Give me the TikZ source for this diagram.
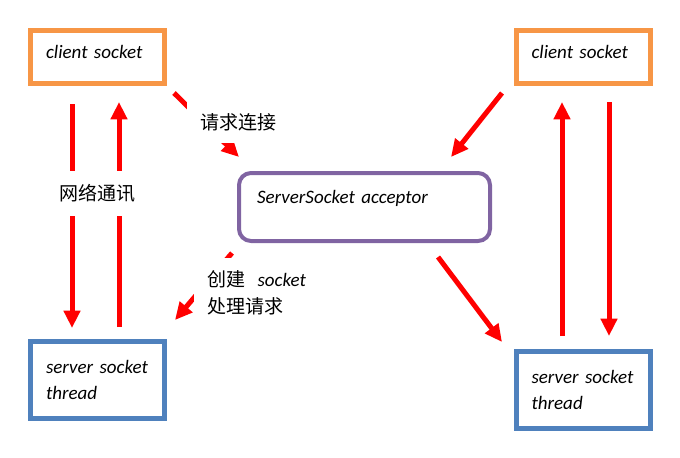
\documentclass[tikz,border=0pt]{standalone}
\usepackage{fontspec}
\setmainfont{Carlito}
\newfontfamily\cjk{Noto Sans CJK SC}
\usetikzlibrary{arrows.meta}

\definecolor{boxorange}{RGB}{247,150,70}
\definecolor{boxblue}{RGB}{79,129,189}
\definecolor{boxpurple}{RGB}{128,100,162}

\tikzset{every picture/.style={line width=0.75pt}}
\tikzset{
  sockbox/.style={line width=3.75pt, minimum width=100.5pt, text width=77.25pt, inner xsep=11.625pt, inner ysep=0pt, align=left, font=\fontsize{14.25}{19.5}\selectfont\itshape},
  clientbox/.style={sockbox, draw=boxorange, minimum height=39.75pt, text height=9.7pt, text depth=7.4pt},
  threadbox/.style={sockbox, draw=boxblue, minimum height=57.75pt},
  acceptbox/.style={draw=boxpurple, line width=3pt, rounded corners=9pt, minimum width=188.25pt, minimum height=51pt, text width=161.25pt, inner xsep=13.5pt, inner ysep=0pt, text height=9.7pt, text depth=15pt, align=left, font=\fontsize{14.25}{19.5}\selectfont\itshape},
  redarrow/.style={draw=red, line width=3.75pt, -{Triangle[width=12pt,length=13pt]}},
  cnlabel/.style={fill=white, font=\cjk\fontsize{14.25}{20}\selectfont}
}

\begin{document}
\begin{tikzpicture}[x=0.75pt,y=0.75pt,yscale=-1,xscale=1]
	\useasboundingbox (0,0) rectangle (680,457);

	%Boxes
	\node [clientbox] (lclient) at (97.5,57) {client~socket};
	\node [threadbox] (lthread) at (97.5,380) {server~socket\\thread};
	\node [clientbox] (rclient) at (583,57) {client~socket};
	\node [threadbox] (rthread) at (583,390) {server~socket\\thread};
	\node [acceptbox] (acceptor) at (364.5,207) {ServerSocket~acceptor};

	%Arrow ends
	\coordinate (ldown1) at (72,104);
	\coordinate (ldown2) at (72,328);
	\coordinate (lup1) at (119,327);
	\coordinate (lup2) at (119,102);
	\coordinate (lreq1) at (174,93);
	\coordinate (lreq2) at (239,157);
	\coordinate (lnew1) at (232,253);
	\coordinate (lnew2) at (175,320);
	\coordinate (rreq1) at (502,93);
	\coordinate (rreq2) at (451,157);
	\coordinate (rnew1) at (438,257);
	\coordinate (rnew2) at (502,342);
	\coordinate (rup1) at (562,336);
	\coordinate (rup2) at (562,102);
	\coordinate (rdown1) at (609,102);
	\coordinate (rdown2) at (609,336);

	%Straight Lines
	\draw [redarrow] (ldown1) -- (ldown2);
	\draw [redarrow] (lup1) -- (lup2);
	\draw [redarrow] (lreq1) -- (lreq2);
	\draw [redarrow] (lnew1) -- (lnew2);
	\draw [redarrow] (rreq1) -- (rreq2);
	\draw [redarrow] (rnew1) -- (rnew2);
	\draw [redarrow] (rup1) -- (rup2);
	\draw [redarrow] (rdown1) -- (rdown2);

	% Text Node
	\node [cnlabel, minimum height=33.75pt, inner xsep=3pt] (netlabel) at (97.5,193) {网络通讯};
	% Text Node
	\node [cnlabel, minimum height=31.5pt, inner xsep=10.5pt, anchor=west] (reqlabel) at (186,122) {请求连接};
	% Text Node
	\node [cnlabel, anchor=north west, inner xsep=10.5pt, inner ysep=10pt, align=left] (newlabel) at (193,257) {创建\hspace{9pt}{\rmfamily\itshape socket}\\处理请求};

\end{tikzpicture}
\end{document}
